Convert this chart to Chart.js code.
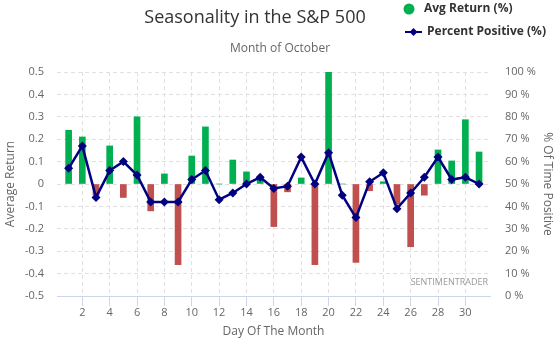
<!DOCTYPE html>
<html>
<head>
<meta charset="utf-8">
<script src="https://cdn.jsdelivr.net/npm/chart.js@4"></script>
<style>
  html, body { margin: 0; padding: 0; background: #ffffff; }
  #wrap { position: relative; width: 558px; height: 343px; }
</style>
</head>
<body>
<div id="wrap"><canvas id="myChart" width="558" height="343"></canvas></div>
<script>
// day of month
var days = [1, 2, 3, 4, 5, 6, 7, 8, 9, 10, 11, 12, 13, 14, 15, 16, 17, 18, 19, 20, 21, 22, 23, 24, 25, 26, 27, 28, 29, 30, 31];
// average return (%)
var avgReturn = [0.24, 0.21, -0.05, 0.17, -0.06, 0.30, -0.12, 0.045, -0.36, 0.125, 0.255, 0, 0.107, 0.054, 0.03, -0.19, -0.035, 0.027, -0.36, 0.50, 0, -0.35, -0.03, 0.01, -0.09, -0.28, -0.05, 0.152, 0.103, 0.287, 0.143];
// percent positive (%)
var pctPositive = [57, 67, 44, 56, 60, 54, 42, 42, 42, 52, 56, 43, 46, 50, 53, 48, 49, 62, 50, 64, 45, 35, 51, 55, 39, 46, 53, 62, 52, 53, 50];
var leftTicks = [-0.5, 0.5, 0.1];
var rightTicks = [0, 100, 10];

var GREEN = '#00b050';
var RED = '#c0504d';
var NAVY = '#000080';
var FONT = "'Open Sans', sans-serif";

document.addEventListener("DOMContentLoaded", function() {
    var ctx = document.getElementById('myChart').getContext('2d');

    var textPlugin = {
        id: 'texts',
        afterDraw: function(chart) {
            var c = chart.ctx;
            c.save();
            c.textBaseline = 'middle';
            c.textAlign = 'center';
            c.fillStyle = '#333333';
            c.font = '18px ' + FONT;
            c.fillText('Seasonality in the S&P 500', 255, 18);
            c.fillStyle = '#666666';
            c.font = '12px ' + FONT;
            c.fillText('Month of October', 280, 49);

            // legend
            c.textAlign = 'left';
            c.fillStyle = GREEN;
            c.beginPath();
            c.arc(409, 9, 5.5, 0, Math.PI * 2);
            c.fill();
            c.fillStyle = '#333333';
            c.font = 'bold 12px ' + FONT;
            c.fillText('Avg Return (%)', 424, 9);

            c.strokeStyle = NAVY;
            c.lineWidth = 2;
            c.beginPath();
            c.moveTo(405, 32);
            c.lineTo(422, 32);
            c.stroke();
            c.fillStyle = NAVY;
            c.beginPath();
            c.moveTo(413.5, 28);
            c.lineTo(417.5, 32);
            c.lineTo(413.5, 36);
            c.lineTo(409.5, 32);
            c.closePath();
            c.fill();
            c.fillStyle = '#333333';
            c.fillText('Percent Positive (%)', 427, 32);

            // watermark
            c.textAlign = 'right';
            c.fillStyle = '#999999';
            c.font = '9px ' + FONT;
            c.fillText('SENTIMENTRADER', 488, 282);
            c.restore();
        }
    };

    new Chart(ctx, {
        data: {
            datasets: [{
                type: 'line',
                label: 'Percent Positive (%)',
                data: days.map(function(d, i) { return { x: d, y: pctPositive[i] }; }),
                yAxisID: 'y1',
                borderColor: NAVY,
                backgroundColor: NAVY,
                borderWidth: 2.5,
                pointStyle: 'rectRot',
                pointRadius: 4.5,
                pointBorderWidth: 0,
                tension: 0,
                order: 0
            }, {
                type: 'bar',
                label: 'Avg Return (%)',
                data: days.map(function(d, i) { return { x: d, y: avgReturn[i] }; }),
                yAxisID: 'y',
                backgroundColor: function(c) {
                    var v = c.raw ? c.raw.y : 0;
                    return v >= 0 ? GREEN : RED;
                },
                barThickness: 6,
                order: 1
            }]
        },
        options: {
            responsive: false,
            animation: false,
            layout: { padding: { top: 72, left: 0, right: 0, bottom: 0 } },
            plugins: {
                legend: { display: false },
                title: { display: false },
                tooltip: { enabled: false }
            },
            scales: {
                x: {
                    type: 'linear',
                    min: 0.15,
                    max: 31.8,
                    offset: false,
                    afterFit: function(s) { s.height = 47; },
                    ticks: {
                        stepSize: 2,
                        includeBounds: false,
                        padding: 0,
                        color: '#666666',
                        font: { family: FONT, size: 11 },
                        callback: function(v) { return (v >= 2 && v <= 30) ? String(v) : ''; }
                    },
                    grid: {
                        offset: false,
                        color: '#e0e0e0',
                        tickColor: '#ccd6eb',
                        tickBorderDash: [1, 0],
                        tickLength: 10
                    },
                    border: { display: true, color: '#ccd6eb', width: 1, dash: [4, 3] },
                    title: {
                        display: true,
                        text: 'Day Of The Month',
                        color: '#666666',
                        font: { family: FONT, size: 12 },
                        padding: { top: 2, bottom: 4 }
                    }
                },
                y: {
                    position: 'left',
                    min: leftTicks[0],
                    max: leftTicks[1],
                    afterFit: function(s) { s.width = 57; },
                    ticks: {
                        stepSize: leftTicks[2],
                        padding: 13,
                        color: '#666666',
                        font: { family: FONT, size: 11 },
                        callback: function(v) { return String(Number(v.toFixed(1))); }
                    },
                    grid: { color: '#e0e0e0', drawTicks: false },
                    border: { display: false, dash: [4, 3] },
                    title: {
                        display: true,
                        text: 'Average Return',
                        color: '#666666',
                        font: { family: FONT, size: 12 },
                        padding: { top: 3, bottom: 0 }
                    }
                },
                y1: {
                    position: 'right',
                    min: rightTicks[0],
                    max: rightTicks[1],
                    afterFit: function(s) { s.width = 68; },
                    ticks: {
                        stepSize: rightTicks[2],
                        padding: 15,
                        color: '#666666',
                        font: { family: FONT, size: 11 },
                        callback: function(v) { return v + ' %'; }
                    },
                    grid: { drawOnChartArea: false, drawTicks: false },
                    border: { display: false },
                    title: {
                        display: true,
                        text: '% Of Time Positive',
                        color: '#666666',
                        font: { family: FONT, size: 12 },
                        padding: { top: 3, bottom: 0 }
                    }
                }
            }
        },
        plugins: [textPlugin]
    });
});
</script>
</body>
</html>
